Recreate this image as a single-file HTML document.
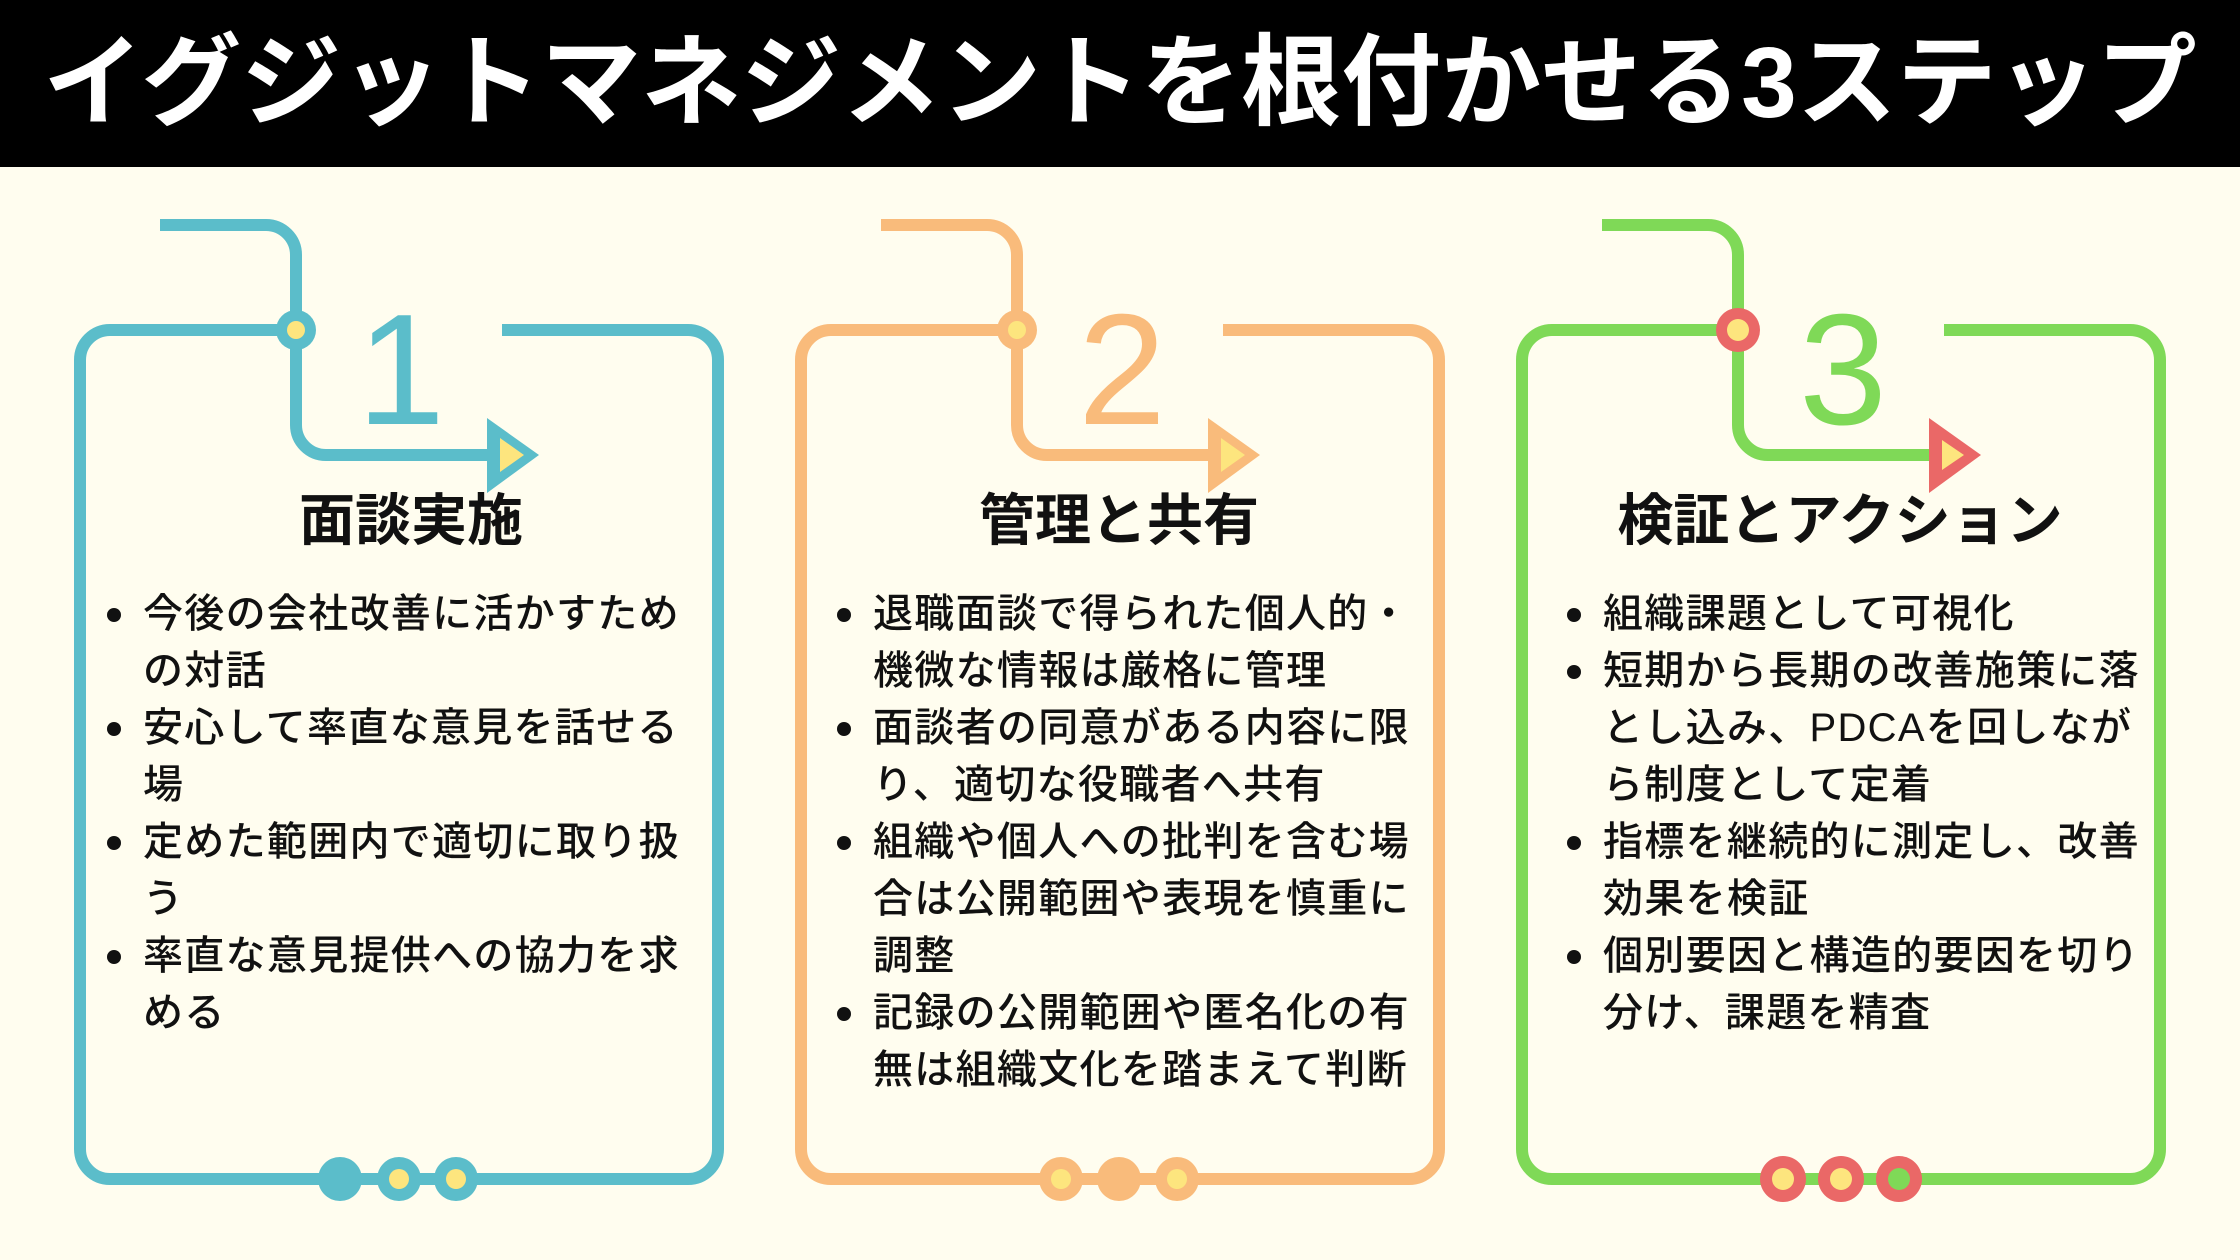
<!DOCTYPE html>
<html><head><meta charset="utf-8"><style>
body{margin:0;width:2240px;height:1260px;background:#fffdef;position:relative;overflow:hidden;font-family:"Liberation Sans","Noto Sans CJK JP",sans-serif;}
.hdr{position:absolute;left:0;top:0;width:2240px;height:167px;background:#000;color:#fff;font-weight:700;font-size:100px;line-height:167px;text-align:center;white-space:nowrap;letter-spacing:0px}
.ttl{position:absolute;top:488px;width:640px;text-align:center;font-weight:700;font-size:56px;line-height:66px;color:#111;white-space:nowrap}
.lst{position:absolute;top:586px;font-size:40px;letter-spacing:1.3px;line-height:57px;color:#111;font-weight:500;white-space:nowrap}
.lst div{position:relative}
.lst div:before{content:"";position:absolute;left:-36px;top:22px;width:14px;height:14px;border-radius:50%;background:#111}
svg{position:absolute;left:0;top:0}
</style></head><body>
<div class="hdr">イグジットマネジメントを根付かせる3ステップ</div>
<svg width="2240" height="1260">
<defs>
<g id="frame" fill="none" stroke-width="12" stroke-linecap="butt">
<path d="M502,330 H688 A30 30 0 0 1 718,360 V1149 A30 30 0 0 1 688,1179 H110 A30 30 0 0 1 80,1149 V360 A30 30 0 0 1 110,330 H296"/>
<path d="M160,225 H266 A30 30 0 0 1 296,255 V425 A30 30 0 0 0 326,455 H490"/>
</g>
</defs>
<g stroke="#5bbdca"><use href="#frame"/></g>
<g stroke="#f9bb7b" transform="translate(721,0)"><use href="#frame"/></g>
<g stroke="#7fd957" transform="translate(1442,0)"><use href="#frame"/></g>
<!-- panel 1 -->
<circle cx="296" cy="330" r="20" fill="#5bbdca"/><circle cx="296" cy="330" r="9" fill="#fde57e"/>
<polygon points="487,418 539,455 487,493" fill="#5bbdca"/><polygon points="500,438 524,455 500,472" fill="#fde57e"/>
<text x="401" y="424" font-size="158" text-anchor="middle" fill="#5bbdca" font-family="Liberation Sans">1</text>
<circle cx="340" cy="1179" r="22" fill="#5bbdca"/>
<circle cx="399" cy="1179" r="22" fill="#5bbdca"/><circle cx="399" cy="1179" r="10" fill="#fde57e"/>
<circle cx="456" cy="1179" r="22" fill="#5bbdca"/><circle cx="456" cy="1179" r="10" fill="#fde57e"/>
<!-- panel 2 -->
<circle cx="1017" cy="330" r="20" fill="#f9bb7b"/><circle cx="1017" cy="330" r="9" fill="#fde57e"/>
<polygon points="1208,418 1260,455 1208,493" fill="#f9bb7b"/><polygon points="1221,438 1245,455 1221,472" fill="#fde57e"/>
<text x="1122" y="424" font-size="158" text-anchor="middle" fill="#f9bb7b" font-family="Liberation Sans">2</text>
<circle cx="1061" cy="1179" r="22" fill="#f9bb7b"/><circle cx="1061" cy="1179" r="10" fill="#fde57e"/>
<circle cx="1119" cy="1179" r="22" fill="#f9bb7b"/>
<circle cx="1177" cy="1179" r="22" fill="#f9bb7b"/><circle cx="1177" cy="1179" r="10" fill="#fde57e"/>
<!-- panel 3 -->
<circle cx="1738" cy="330" r="22" fill="#ea6867"/><circle cx="1738" cy="330" r="11" fill="#fde57e"/>
<polygon points="1929,418 1981,455 1929,493" fill="#ea6867"/><polygon points="1942,440 1964,455 1942,470" fill="#fde57e"/>
<text x="1843" y="424" font-size="158" text-anchor="middle" fill="#7fd957" font-family="Liberation Sans">3</text>
<circle cx="1783" cy="1179" r="23" fill="#ea6867"/><circle cx="1783" cy="1179" r="11" fill="#fde57e"/>
<circle cx="1841" cy="1179" r="23" fill="#ea6867"/><circle cx="1841" cy="1179" r="11" fill="#fde57e"/>
<circle cx="1899" cy="1179" r="23" fill="#ea6867"/><circle cx="1899" cy="1179" r="11" fill="#7fd957"/>
</svg>
<div class="ttl" style="left:91px">面談実施</div>
<div class="ttl" style="left:799px">管理と共有</div>
<div class="ttl" style="left:1520px">検証とアクション</div>
<div class="lst" style="left:143px">
<div>今後の会社改善に活かすため<br>の対話</div>
<div>安心して率直な意見を話せる<br>場</div>
<div>定めた範囲内で適切に取り扱<br>う</div>
<div>率直な意見提供への協力を求<br>める</div>
</div>
<div class="lst" style="left:873px">
<div>退職面談で得られた個人的・<br>機微な情報は厳格に管理</div>
<div>面談者の同意がある内容に限<br>り、適切な役職者へ共有</div>
<div>組織や個人への批判を含む場<br>合は公開範囲や表現を慎重に<br>調整</div>
<div>記録の公開範囲や匿名化の有<br>無は組織文化を踏まえて判断</div>
</div>
<div class="lst" style="left:1603px">
<div>組織課題として可視化</div>
<div>短期から長期の改善施策に落<br>とし込み、PDCAを回しなが<br>ら制度として定着</div>
<div>指標を継続的に測定し、改善<br>効果を検証</div>
<div>個別要因と構造的要因を切り<br>分け、課題を精査</div>
</div>
</body></html>
